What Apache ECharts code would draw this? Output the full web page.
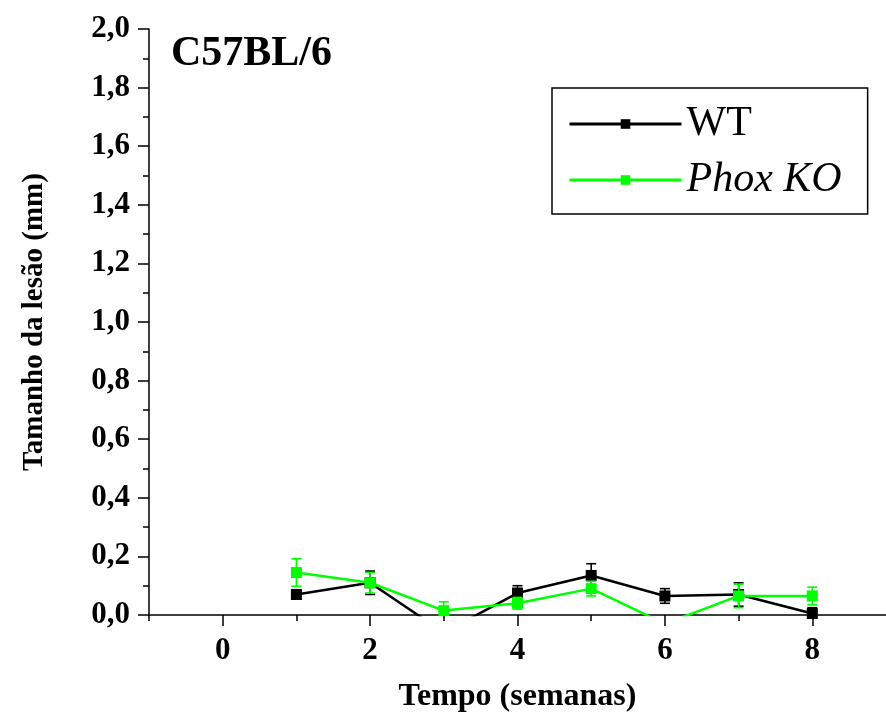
<!DOCTYPE html>
<html>
<head>
<meta charset="utf-8">
<script src="https://cdn.jsdelivr.net/npm/echarts@6/dist/echarts.min.js"></script>
<style>
  html, body { margin: 0; padding: 0; background: #fff; }
  #chart { width: 886px; height: 727px; }
</style>
</head>
<body>
<div id="chart"></div>
<script>
// Lesion size over time for C57BL/6 mice, WT vs Phox KO
const weeks = [1, 2, 3, 4, 5, 6, 7, 8];
const wtMean = [0.07, 0.11, -0.06, 0.075, 0.135, 0.065, 0.07, 0.005];
const wtErr = [0.015, 0.04, 0.02, 0.025, 0.04, 0.025, 0.04, 0.02];
const koMean = [0.145, 0.11, 0.015, 0.04, 0.09, -0.03, 0.065, 0.065];
const koErr = [0.047, 0.035, 0.03, 0.02, 0.025, 0.02, 0.04, 0.03];
const xMajorTicks = [0, 2, 4, 6, 8];
const xMinorTicks = [-1, 1, 3, 5, 7];

const FONT = '"Liberation Serif", "Times New Roman", serif';
const GREEN = '#00ff00';

const lineData = (ys) => weeks.map((w, i) => [w, ys[i]]);
const errData = (ys, es) => weeks.map((w, i) => [w, ys[i] - es[i], ys[i] + es[i]]);

function errorBar(color) {
  return function (params, api) {
    const x = api.value(0);
    const lo = api.coord([x, api.value(1)]);
    const hi = api.coord([x, api.value(2)]);
    const cap = 5;
    const style = { stroke: color, lineWidth: 1.6, fill: null };
    return {
      type: 'group',
      children: [
        { type: 'line', shape: { x1: lo[0], y1: lo[1], x2: hi[0], y2: hi[1] }, style },
        { type: 'line', shape: { x1: hi[0] - cap, y1: hi[1], x2: hi[0] + cap, y2: hi[1] }, style },
        { type: 'line', shape: { x1: lo[0] - cap, y1: lo[1], x2: lo[0] + cap, y2: lo[1] }, style }
      ]
    };
  };
}

const axisLineStyle = { color: '#000', width: 1.5 };

const chart = echarts.init(document.getElementById('chart'), null, { renderer: 'canvas' });
chart.setOption({
  animation: false,
  backgroundColor: '#fff',
  title: {
    text: 'C57BL/6',
    left: 171,
    top: 33,
    padding: 0,
    textStyle: { fontFamily: FONT, fontWeight: 'bold', fontSize: 42, color: '#000' }
  },
  legend: {
    orient: 'vertical',
    left: 552,
    top: 88,
    padding: [15, 26, 13, 16],
    itemGap: 14,
    itemWidth: 112,
    itemHeight: 12,
    borderColor: '#000',
    borderWidth: 1.5,
    borderRadius: 0,
    lineStyle: { width: 3 },
    data: ['WT', 'Phox KO'],
    formatter: (name) => name === 'WT' ? '{n|WT}' : '{i|Phox KO}',
    textStyle: {
      color: '#000',
      fontFamily: FONT,
      fontSize: 42,
      rich: {
        n: { fontFamily: FONT, fontSize: 42, lineHeight: 40, color: '#000' },
        i: { fontFamily: FONT, fontSize: 42, lineHeight: 40, fontStyle: 'italic', color: '#000' }
      }
    }
  },
  grid: { left: 149, top: 29, width: 741, height: 586, containLabel: false },
  xAxis: [
    {
      type: 'value',
      min: -1,
      max: 9,
      position: 'bottom',
      name: 'Tempo (semanas)',
      nameLocation: 'middle',
      nameGap: 66,
      nameTextStyle: { fontFamily: FONT, fontWeight: 'bold', fontSize: 32, color: '#000' },
      axisLine: { show: true, onZero: false, lineStyle: axisLineStyle },
      axisTick: { show: true, customValues: xMajorTicks, length: 11, inside: false, lineStyle: axisLineStyle },
      axisLabel: {
        customValues: xMajorTicks,
        margin: 20,
        fontFamily: FONT, fontWeight: 'bold', fontSize: 31, color: '#000'
      },
      splitLine: { show: false }
    },
    {
      type: 'value',
      min: -1,
      max: 9,
      position: 'bottom',
      offset: 0,
      axisLine: { show: false, onZero: false },
      axisTick: { show: true, customValues: xMinorTicks, length: 6, lineStyle: axisLineStyle },
      axisLabel: { show: false },
      splitLine: { show: false }
    }
  ],
  yAxis: {
    type: 'value',
    min: 0,
    max: 2,
    interval: 0.2,
    position: 'left',
    name: 'Tamanho da lesão (mm)',
    nameLocation: 'middle',
    nameGap: 100,
    nameTextStyle: { fontFamily: FONT, fontWeight: 'bold', fontSize: 29, color: '#000' },
    axisLine: { show: true, onZero: false, lineStyle: axisLineStyle },
    axisTick: { show: true, length: 11, lineStyle: axisLineStyle },
    minorTick: { show: true, splitNumber: 2, length: 6, lineStyle: axisLineStyle },
    axisLabel: {
      margin: 19,
      fontFamily: FONT, fontWeight: 'bold', fontSize: 31, color: '#000',
      formatter: (v) => v.toFixed(1).replace('.', ',')
    },
    splitLine: { show: false }
  },
  series: [
    {
      name: 'WT',
      type: 'line',
      data: lineData(wtMean),
      clip: true,
      symbol: 'rect',
      symbolSize: 11,
      color: '#000',
      lineStyle: { color: '#000', width: 2.5 },
      itemStyle: { color: '#000' },
      z: 2
    },
    {
      name: 'WT',
      type: 'custom',
      data: errData(wtMean, wtErr),
      renderItem: errorBar('#000'),
      clip: true,
      encode: { x: 0, y: [1, 2] },
      z: 3
    },
    {
      name: 'Phox KO',
      type: 'line',
      data: lineData(koMean),
      clip: true,
      symbol: 'rect',
      symbolSize: 11,
      color: GREEN,
      lineStyle: { color: GREEN, width: 2.5 },
      itemStyle: { color: GREEN },
      z: 4
    },
    {
      name: 'Phox KO',
      type: 'custom',
      data: errData(koMean, koErr),
      renderItem: errorBar(GREEN),
      clip: true,
      encode: { x: 0, y: [1, 2] },
      z: 5
    }
  ]
});
</script>
</body>
</html>
